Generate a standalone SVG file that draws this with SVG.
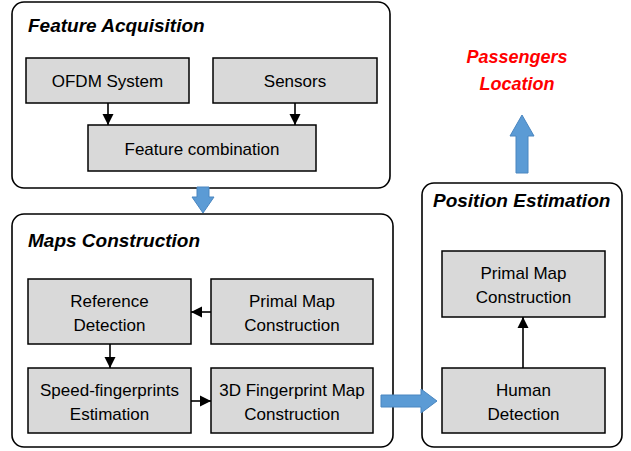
<svg xmlns="http://www.w3.org/2000/svg" width="631" height="451" viewBox="0 0 631 451">
  <defs>
    <marker id="ah" viewBox="0 0 10 10" refX="10" refY="5" markerWidth="7" markerHeight="7" orient="auto" markerUnits="strokeWidth">
      <path d="M0,0 L10,5 L0,10 Z" fill="#000"/>
    </marker>
    <style>
      .panel { fill: #fff; stroke: #000; stroke-width: 1.6; }
      .box { fill: #d9d9d9; stroke: #000; stroke-width: 1.5; }
      .title { font-family: "Liberation Sans", Arial, sans-serif; font-weight: bold; font-style: italic; font-size: 19px; fill: #000; }
      .lbl { font-family: "Liberation Sans", Arial, sans-serif; font-size: 17px; fill: #000; text-anchor: middle; }
      .out { font-family: "Liberation Sans", Arial, sans-serif; font-weight: bold; font-style: italic; font-size: 18px; fill: #ff0000; text-anchor: middle; }
      .link { stroke: #000; stroke-width: 1.6; fill: none; marker-end: url(#ah); }
      .flow { fill: #5b9bd5; stroke: #4a86c0; stroke-width: 1; }
    </style>
  </defs>

  <!-- Feature Acquisition panel -->
  <g id="feature-acquisition">
    <rect class="panel" x="12" y="2" width="378" height="186" rx="12"/>
    <text class="title" x="28" y="32">Feature Acquisition</text>
  </g>
  <g id="ofdm-system">
    <rect class="box" x="26" y="58" width="163" height="45"/>
    <text class="lbl" x="107.5" y="87">OFDM System</text>
  </g>
  <g id="sensors">
    <rect class="box" x="213" y="58" width="164" height="45"/>
    <text class="lbl" x="295" y="87">Sensors</text>
  </g>
  <g id="feature-combination">
    <rect class="box" x="88" y="125" width="228" height="46"/>
    <text class="lbl" x="202" y="155">Feature combination</text>
  </g>

  <!-- Maps Construction panel -->
  <g id="maps-construction">
    <rect class="panel" x="12" y="214" width="381" height="233" rx="12"/>
    <text class="title" x="28" y="247">Maps Construction</text>
  </g>
  <g id="reference-detection">
    <rect class="box" x="28" y="279" width="163" height="65"/>
    <text class="lbl" x="109.5" y="307">Reference</text>
    <text class="lbl" x="109.5" y="331">Detection</text>
  </g>
  <g id="primal-map-construction">
    <rect class="box" x="211" y="279" width="162" height="65"/>
    <text class="lbl" x="292" y="307">Primal Map</text>
    <text class="lbl" x="292" y="331">Construction</text>
  </g>
  <g id="speed-fingerprints-estimation">
    <rect class="box" x="28" y="368" width="163" height="65"/>
    <text class="lbl" x="109.5" y="396">Speed-fingerprints</text>
    <text class="lbl" x="109.5" y="420">Estimation</text>
  </g>
  <g id="fingerprint-map-construction">
    <rect class="box" x="211" y="368" width="162" height="65"/>
    <text class="lbl" x="292" y="396">3D Fingerprint Map</text>
    <text class="lbl" x="292" y="420">Construction</text>
  </g>

  <!-- Position Estimation panel -->
  <g id="position-estimation">
    <rect class="panel" x="422" y="183" width="200" height="264" rx="12"/>
    <text class="title" x="433" y="207">Position Estimation</text>
  </g>
  <g id="position-primal-map">
    <rect class="box" x="442" y="251" width="163" height="66"/>
    <text class="lbl" x="523.5" y="279">Primal Map</text>
    <text class="lbl" x="523.5" y="303">Construction</text>
  </g>
  <g id="human-detection">
    <rect class="box" x="442" y="368" width="163" height="65"/>
    <text class="lbl" x="523.5" y="396">Human</text>
    <text class="lbl" x="523.5" y="420">Detection</text>
  </g>

  <!-- Output -->
  <g id="passengers-location">
    <text class="out" x="517" y="63">Passengers</text>
    <text class="out" x="517" y="90">Location</text>
  </g>

  <!-- Connectors -->
  <g id="connectors">
    <line class="link" x1="108" y1="103" x2="108" y2="125"/>
    <line class="link" x1="295" y1="103" x2="295" y2="125"/>
    <line class="link" x1="211" y1="312" x2="191" y2="312"/>
    <line class="link" x1="110" y1="344" x2="110" y2="368"/>
    <line class="link" x1="191" y1="401" x2="211" y2="401"/>
    <line class="link" x1="523" y1="368" x2="523" y2="317"/>
    <!-- block arrows between stages -->
    <path class="flow" d="M197,187 L209,187 L209,197 L214,197 L203,213 L192,197 L197,197 Z"/>
    <path class="flow" d="M381,395 L421,395 L421,389 L437,401 L421,413 L421,407 L381,407 Z"/>
    <path class="flow" d="M516,173 L516,136 L510,136 L522,115 L534,136 L528,136 L528,173 Z"/>
  </g>
</svg>
